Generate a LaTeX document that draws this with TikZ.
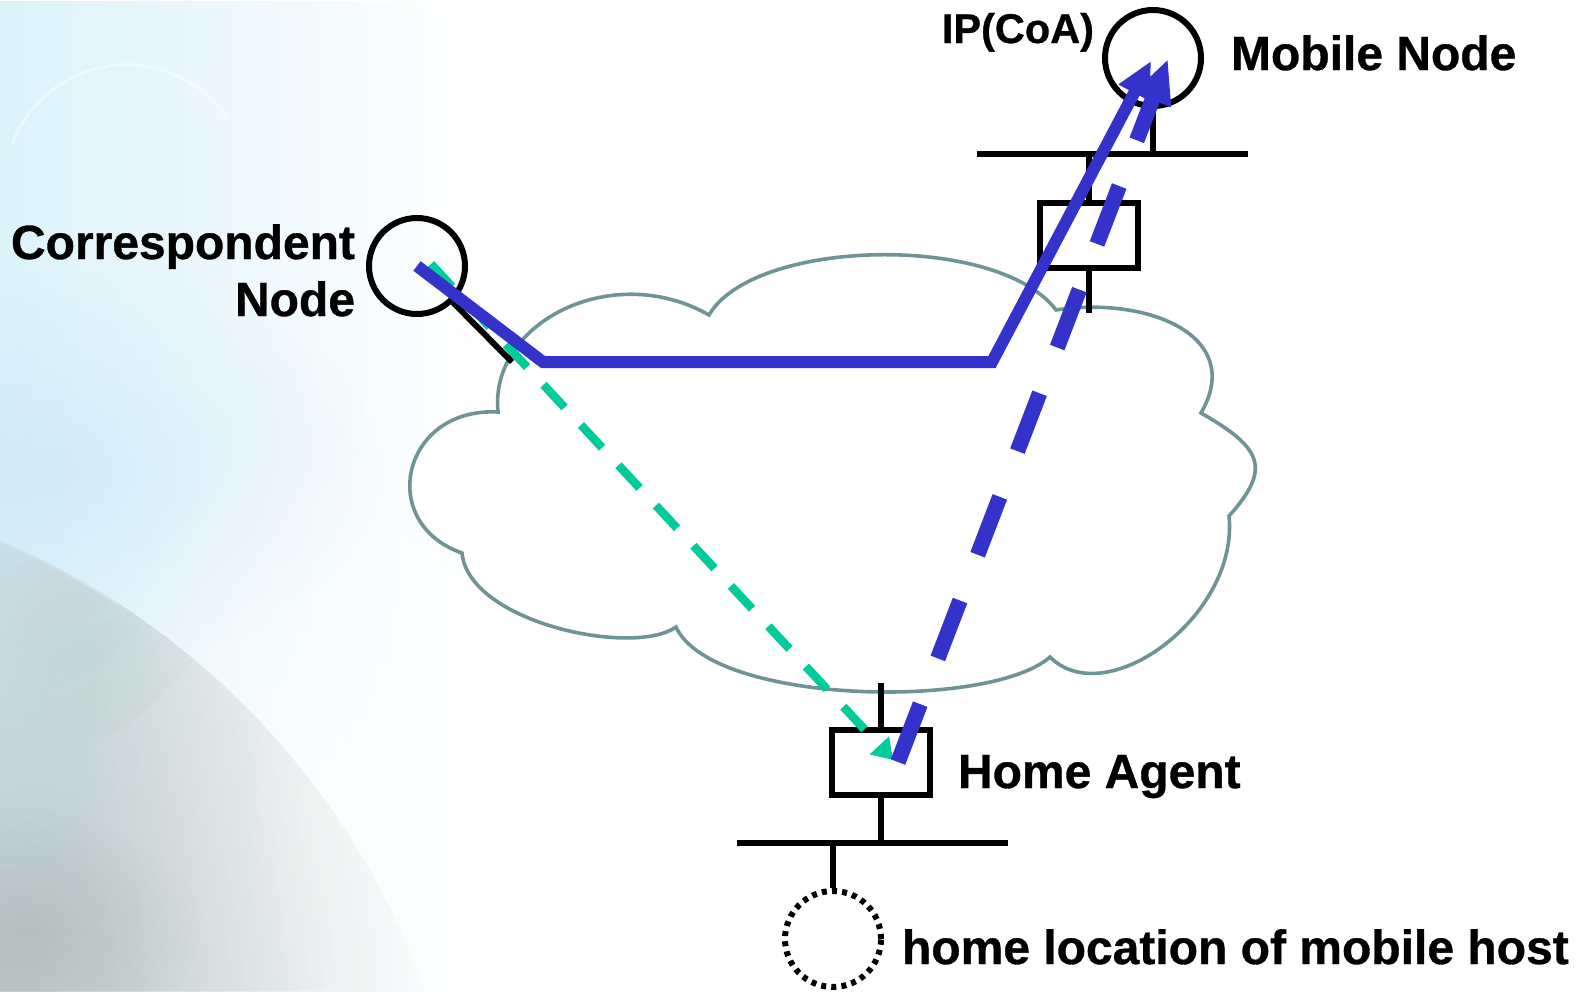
\documentclass[tikz,border=0pt]{standalone}
\usepackage{fontspec}
\setmainfont{Liberation Sans}[BoldFeatures={FakeBold=0.7}]
\usetikzlibrary{arrows.meta,fadings}

\definecolor{flowblue}{RGB}{51,51,204}
\definecolor{flowgreen}{RGB}{0,204,153}
\definecolor{cloudline}{RGB}{110,148,150}
\definecolor{haze}{RGB}{214,241,250}
\definecolor{deephaze}{RGB}{196,226,246}
\definecolor{earth}{RGB}{178,184,182}
\definecolor{landbrown}{RGB}{205,140,110}
\definecolor{landgreen}{RGB}{150,178,130}
\definecolor{landblue}{RGB}{120,150,200}

\tikzfading[name=fade right, left color=transparent!0, right color=transparent!100]
\tikzfading[name=fade earth, left color=transparent!10, right color=transparent!100]
\tikzfading[name=fade radial, inner color=transparent!0, outer color=transparent!100]

\begin{document}
\begin{tikzpicture}[x=1pt, y=-1pt,
  wire/.style={line width=6pt, black},
  host/.style={circle, draw=black, line width=6pt, minimum size=96pt, inner sep=0pt},
  router/.style={rectangle, draw=black, line width=6pt, minimum width=98pt, minimum height=65pt, inner sep=0pt},
  lab/.style={font=\fontsize{48}{56}\selectfont\bfseries, inner sep=0pt, outer sep=0pt},
  smalllab/.style={font=\fontsize{41.5}{48}\selectfont\bfseries, inner sep=0pt, outer sep=0pt},
  cloudshape/.style={draw=cloudline, line width=3.6pt, fill=white},
  route/.style={flowblue, line width=12pt, -{Triangle[length=36pt, width=33pt]}},
  tunnel/.style={flowblue, line width=15.5pt, dash pattern=on 62pt off 49pt, -{Triangle[length=44pt, width=37pt]}},
  firstpath/.style={flowgreen, line width=8.5pt, dash pattern=on 31pt off 24pt, -{Triangle[length=20pt, width=25pt]}}
]
\useasboundingbox (0,0) rectangle (1582,991);

% backdrop: white page with a pale sky and a faded earth in the lower-left corner
\fill[white] (0,0) rectangle (1582,991);
\begin{scope}
  \clip (0,0) rectangle (1582,991);
  % earth disc, fading out towards the right
  \begin{scope}
    \clip (-300,1250) circle (770);
    \fill[earth, path fading=fade earth] (-60,500) rectangle (330,991);
    \fill[landbrown, opacity=0.35, path fading=fade radial, rotate around={28:(50,595)}] (50,595) ellipse (110 and 40);
    \fill[landblue, opacity=0.25, path fading=fade radial, rotate around={30:(60,640)}] (60,640) ellipse (120 and 40);
    \fill[landgreen, opacity=0.35, path fading=fade radial, rotate around={35:(90,690)}] (90,690) ellipse (140 and 50);
  \end{scope}
  % earth limb
  \draw[white, opacity=0.7, line width=4pt] (-300,1250) ++(-68:770) arc[start angle=-68, end angle=-57, radius=770];
  % pale sky
  \fill[haze, opacity=0.85, path fading=fade right] (0,0) rectangle (470,991);
  \fill[deephaze, opacity=0.45, path fading=fade radial] (60,470) ellipse (320 and 200);
  % glow along the lit edge of the earth, and the grey night side
  \fill[white, opacity=0.75, path fading=fade radial] (330,820) ellipse (260 and 420);
  \begin{scope}
    \clip (-300,1250) circle (770);
    \fill[earth, opacity=0.65, path fading=fade radial] (0,991) ellipse (440 and 620);
    \fill[earth!80!black, opacity=0.22, path fading=fade radial] (30,930) ellipse (170 and 120);
  \end{scope}
  % faint halo
  \draw[white, opacity=0.45, line width=3pt] (12,145) arc[start angle=200, end angle=325, radius=122];
\end{scope}

% the internet cloud
\draw[cloudshape] (498,412)
  .. controls (489,322) and (613,260) .. (709,315)
  .. controls (754,238) and (998,233) .. (1056,310)
  .. controls (1146,296) and (1246,335) .. (1201,413)
  .. controls (1262,448) and (1272,468) .. (1229,516)
  .. controls (1239,616) and (1106,713) .. (1050,657)
  .. controls (990,710) and (712,705) .. (676,627)
  .. controls (634,657) and (469,623) .. (462,553)
  .. controls (376,523) and (402,407) .. (498,412) -- cycle;

% hosts and routers
\node[host] (cn) at (417,266) {};
\node[host] (mn) at (1153,58) {};
\node[host, dash pattern=on 5pt off 5.2pt] (home) at (833,939) {};
\node[router] (fa) at (1089,235) {};
\node[router] (ha) at (881,762) {};

% local networks and attachments
\coordinate (fanetL) at (977,154);
\coordinate (fanetR) at (1248,154);
\coordinate (hanetL) at (737,843);
\coordinate (hanetR) at (1008,843);
\coordinate (cnlink) at (512,362);
\coordinate (fadown) at (1089,313);
\coordinate (haup) at (881,683);

\draw[wire] (fanetL) -- (fanetR);
\draw[wire] (hanetL) -- (hanetR);
\draw[wire] (cn) -- (cnlink);
\draw[wire] (mn.south) -- (mn.south |- fanetL);
\draw[wire] (fa.north) -- (fa.north |- fanetL);
\draw[wire] (fa.south) -- (fadown);
\draw[wire] (ha.north) -- (haup);
\draw[wire] (ha.south) -- (ha.south |- hanetL);
\draw[wire] (home.north) -- (home.north |- hanetL);

% packet flows
\coordinate (gstart) at (431,264);
\coordinate (gtip) at (893,760);
\coordinate (bend1) at (543,362);
\coordinate (bend2) at (992,362);
\coordinate (rtip) at (1151,61);
\coordinate (tstart) at (898,762);
\coordinate (ttip) at (1168,59);

\draw[firstpath] (gstart) -- (gtip);
\draw[tunnel] (tstart) -- (ttip);
\draw[route] (cn.center) -- (bend1) -- (bend2) -- (rtip);

% labels
\node[lab, anchor=base east] (cnlab1) at (355,259) {Correspondent};
\node[lab, anchor=base east] (cnlab2) at (355,316) {Node};
\node[lab, anchor=base west] (mnlab) at (1231,70) {Mobile Node};
\node[smalllab, anchor=base east] (coalab) at (1094,43) {IP(CoA)};
\node[lab, anchor=base west] (halab) at (958,788) {Home Agent};
\node[lab, anchor=base west] (homelab) at (902,964) {home location of mobile host};
\end{tikzpicture}
\end{document}
